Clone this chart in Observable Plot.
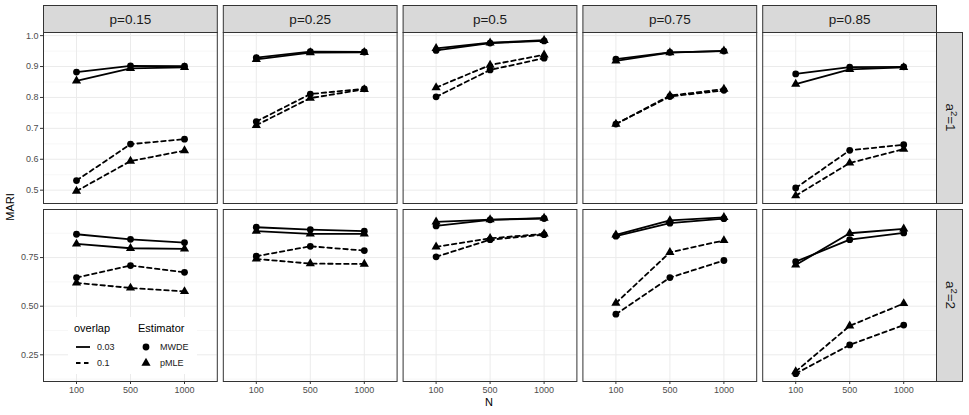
<!DOCTYPE html>
<html><head><meta charset="utf-8">
<script src="https://cdn.jsdelivr.net/npm/d3@7"></script>
<script src="https://cdn.jsdelivr.net/npm/@observablehq/plot@0.6"></script>
<style>
body{margin:0;background:#fff;}
#chart{position:relative;width:969px;height:415px;font-family:"Liberation Sans",Arial,sans-serif;background:#fff;overflow:hidden;}
#chart > svg{position:absolute;left:0;}
</style></head><body><div id="chart"></div>
<script>
// ---- data ----
const pLabels = ["0.15","0.25","0.5","0.75","0.85"];
const Ns = ["100","500","1000"];
const overlaps = ["0.03","0.1"];
const estimators = ["MWDE","pMLE"];
const rowLabels = ["1","2"];

// a^2 = 1  (per p panel: values at N = 100, 500, 1000)
const a1_MWDE_003 = [[0.882,0.902,0.901],[0.929,0.948,0.947],[0.952,0.976,0.983],[0.924,0.946,0.950],[0.876,0.898,0.899]];
const a1_pMLE_003 = [[0.854,0.894,0.897],[0.923,0.945,0.946],[0.959,0.977,0.985],[0.918,0.945,0.951],[0.843,0.891,0.897]];
const a1_MWDE_01  = [[0.531,0.649,0.665],[0.722,0.811,0.828],[0.802,0.889,0.927],[0.714,0.803,0.823],[0.507,0.629,0.647]];
const a1_pMLE_01  = [[0.497,0.594,0.628],[0.710,0.798,0.826],[0.832,0.905,0.938],[0.714,0.806,0.827],[0.482,0.588,0.633]];
// a^2 = 2
const a2_MWDE_003 = [[0.870,0.844,0.827],[0.906,0.894,0.886],[0.913,0.944,0.951],[0.860,0.927,0.950],[0.729,0.842,0.877]];
const a2_pMLE_003 = [[0.820,0.798,0.795],[0.886,0.872,0.872],[0.934,0.945,0.953],[0.867,0.941,0.957],[0.712,0.875,0.898]];
const a2_MWDE_01  = [[0.647,0.709,0.674],[0.757,0.808,0.786],[0.754,0.842,0.868],[0.459,0.647,0.735],[0.153,0.301,0.403]];
const a2_pMLE_01  = [[0.620,0.594,0.576],[0.743,0.719,0.717],[0.805,0.849,0.872],[0.516,0.777,0.838],[0.164,0.399,0.514]];

const yTicks1 = [0.5,0.6,0.7,0.8,0.9,1.0];
const yMinor1 = [0.55,0.65,0.75,0.85,0.95];
const yTicks2 = [0.25,0.50,0.75];
const yMinor2 = [0.125,0.375,0.625,0.875];

// ---- tidy ----
function tidy(series) {
  const out = [];
  for (const [est, ov, arr] of series) {
    arr.forEach((vals, pi) => vals.forEach((v, ni) => out.push({p: pLabels[pi], N: Ns[ni], v, est, ov})));
  }
  return out;
}
const row1 = tidy([["MWDE","0.03",a1_MWDE_003],["pMLE","0.03",a1_pMLE_003],["MWDE","0.1",a1_MWDE_01],["pMLE","0.1",a1_pMLE_01]]);
const row2 = tidy([["MWDE","0.03",a2_MWDE_003],["pMLE","0.03",a2_pMLE_003],["MWDE","0.1",a2_MWDE_01],["pMLE","0.1",a2_pMLE_01]]);

function expandDomain(data) {
  const [lo, hi] = d3.extent(data, d => d.v);
  const e = (hi - lo) * 0.05;
  return [lo - e, hi + e];
}

// ---- layout ----
const W = 969, ML = 43, MR = 33;
const fxOpts = {domain: pLabels, paddingInner: 0.0334, paddingOuter: 0, axis: null, round: false, label: null};
const xOpts = {type: "point", domain: Ns, padding: 0.6, axis: null, label: null};
const font = {fontFamily: '"Liberation Sans", Arial, sans-serif', background: "transparent", overflow: "visible"};
const DASH = "4.5,3.5";
const chart = document.getElementById("chart");

function panelMarks(data, ticks, minor, fmt, bottom) {
  const marks = [
    Plot.ruleY(minor, {stroke: "#F5F5F5", strokeWidth: 0.8}),
    Plot.ruleY(ticks, {stroke: "#EBEBEB", strokeWidth: 1}),
    Plot.ruleX(Ns, {stroke: "#EBEBEB", strokeWidth: 1}),
    Plot.axisY({ticks, tickFormat: d3.format(fmt), tickSize: 3, tickPadding: 2, fontSize: 9, stroke: "#333333", fill: "#4D4D4D", label: null}),
    Plot.line(data.filter(d => d.ov === "0.03"), {fx: "p", x: "N", y: "v", z: "est", stroke: "black", strokeWidth: 1.8}),
    Plot.line(data.filter(d => d.ov === "0.1"), {fx: "p", x: "N", y: "v", z: "est", stroke: "black", strokeWidth: 1.8, strokeDasharray: DASH}),
    Plot.dot(data.filter(d => d.est === "MWDE"), {fx: "p", x: "N", y: "v", r: 3.4, fill: "black", symbol: "circle"}),
    Plot.dot(data.filter(d => d.est === "pMLE"), {fx: "p", x: "N", y: "v", r: 3.4, fill: "black", symbol: "triangle"}),
    Plot.frame({stroke: "#333333", strokeWidth: 1})
  ];
  if (bottom) marks.push(Plot.axisX({ticks: Ns, tickSize: 3, tickPadding: 2, fontSize: 9, stroke: "#333333", fill: "#4D4D4D", label: null}));
  return marks;
}

// top strip
const strip = Plot.plot({
  width: W, height: 30, marginLeft: ML, marginRight: MR, marginTop: 2, marginBottom: 1,
  style: font, fx: fxOpts, x: {axis: null}, y: {axis: null},
  marks: [
    Plot.frame({fill: "#D9D9D9", stroke: "#333333", strokeWidth: 1}),
    Plot.text(pLabels, {fx: d => d, text: d => "p=" + d, frameAnchor: "middle", fontSize: 13.5, fill: "#1A1A1A", dy: 1})
  ]
});
strip.style.top = "3px";
chart.appendChild(strip);

const p1 = Plot.plot({
  width: W, height: 175, marginLeft: ML, marginRight: MR, marginTop: 2, marginBottom: 2,
  style: font, fx: fxOpts, x: xOpts, y: {domain: expandDomain(row1), axis: null, label: null},
  marks: panelMarks(row1, yTicks1, yMinor1, ".1f", false)
});
p1.style.top = "30px";
chart.appendChild(p1);

const p2 = Plot.plot({
  width: W, height: 204, marginLeft: ML, marginRight: MR, marginTop: 2, marginBottom: 30,
  style: font, fx: fxOpts, x: xOpts, y: {domain: expandDomain(row2), axis: null, label: null},
  marks: panelMarks(row2, yTicks2, yMinor2, ".2f", true)
});
p2.style.top = "207px";
chart.appendChild(p2);

// overlay: row strips, legend, axis titles
const ov = d3.select(chart).append("svg").attr("width", W).attr("height", 415).style("top", "0px")
  .style("font-family", '"Liberation Sans", Arial, sans-serif');

const rowBands = [[32, 203], [209, 381]];
rowLabels.forEach((lab, i) => {
  const [y0, y1] = rowBands[i];
  ov.append("rect").attr("x", 936.5).attr("y", y0 + 0.5).attr("width", 26).attr("height", y1 - y0)
    .attr("fill", "#D9D9D9").attr("stroke", "#333333");
  const t = ov.append("text").attr("transform", `translate(946,${(y0 + y1) / 2}) rotate(90)`)
    .attr("text-anchor", "middle").attr("font-size", 13.5).attr("fill", "#1A1A1A");
  t.append("tspan").text("a");
  t.append("tspan").attr("dy", -5).attr("font-size", 9.5).text("2");
  t.append("tspan").attr("dy", 5).text("=" + lab);
});

// axis titles
ov.append("text").attr("x", 489).attr("y", 406).attr("text-anchor", "middle").attr("font-size", 11).text("N");
ov.append("text").attr("transform", "translate(14,207) rotate(-90)").attr("text-anchor", "middle").attr("font-size", 11).text("MARI");

// legend
const lg = ov.append("g");
lg.append("rect").attr("x", 68).attr("y", 317).attr("width", 129).attr("height", 57).attr("fill", "white");
lg.append("text").attr("x", 74).attr("y", 332).attr("font-size", 11).text("overlap");
lg.append("text").attr("x", 138).attr("y", 332).attr("font-size", 11).text("Estimator");
overlaps.forEach((o, i) => {
  const y = 347 + i * 16;
  lg.append("line").attr("x1", 76).attr("x2", 90).attr("y1", y).attr("y2", y).attr("stroke", "black")
    .attr("stroke-width", 1.8).attr("stroke-dasharray", i ? DASH : null);
  lg.append("text").attr("x", 97).attr("y", y + 3.3).attr("font-size", 9).attr("fill", "#1A1A1A").text(o);
});
const sym = {MWDE: d3.symbolCircle, pMLE: d3.symbolTriangle};
estimators.forEach((e, i) => {
  const y = 347 + i * 16;
  lg.append("path").attr("d", d3.symbol(sym[e], Math.PI * 3.4 * 3.4)()).attr("transform", `translate(146,${y})`).attr("fill", "black");
  lg.append("text").attr("x", 160).attr("y", y + 3.3).attr("font-size", 9).attr("fill", "#1A1A1A").text(e);
});
</script></body></html>
